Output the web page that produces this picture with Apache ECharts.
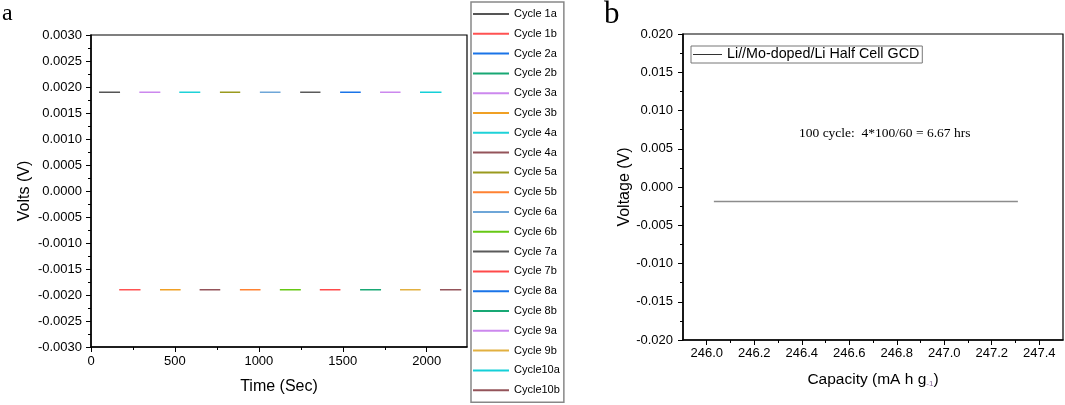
<!DOCTYPE html>
<html>
<head>
<meta charset="utf-8">
<script src="https://cdn.jsdelivr.net/npm/echarts@6/dist/echarts.min.js"></script>
<style>
html, body { margin: 0; padding: 0; background: #fff; }
#container { width: 1065px; height: 405px; }
</style>
</head>
<body>
<div id="container"></div>
<script>
// panel a: charge / discharge steps
var cycleNames = ['Cycle 1a', 'Cycle 1b', 'Cycle 2a', 'Cycle 2b', 'Cycle 3a', 'Cycle 3b', 'Cycle 4a', 'Cycle 4a ',
    'Cycle 5a', 'Cycle 5b', 'Cycle 6a', 'Cycle 6b', 'Cycle 7a', 'Cycle 7b', 'Cycle 8a', 'Cycle 8b',
    'Cycle 9a', 'Cycle 9b', 'Cycle10a', 'Cycle10b'];
var cycleColors = ['#555555', '#ff5252', '#1a74e8', '#18a874', '#cc88ee', '#f0a024', '#1ed2d8', '#94545a',
    '#9a9a1e', '#ff8232', '#6ea6d8', '#66c814', '#5a5a5a', '#ff4a4a', '#1a74e8', '#18a874',
    '#cc88ee', '#e2b040', '#14d0d8', '#94545a'];
var cycleStartSec = [48, 168, null, null, 288, 411, 526, 647, 768, 887, 1006, 1125, 1246, 1363, 1484, 1603, 1722, 1841, 1960, 2079];
var cycleEndSec = [173, 295, null, null, 413, 534, 651, 770, 889, 1010, 1129, 1250, 1367, 1486, 1607, 1728, 1844, 1964, 2088, 2206];
var cycleVolts = [0.0019, -0.0019, 0.0019, -0.0019, 0.0019, -0.0019, 0.0019, -0.0019, 0.0019, -0.0019,
    0.0019, -0.0019, 0.0019, -0.0019, 0.0019, -0.0019, 0.0019, -0.0019, 0.0019, -0.0019];
var timeMajorTicks = [0, 500, 1000, 1500, 2000];
var timeMinorTicks = [250, 750, 1250, 1750];

// panel b: GCD trace
var gcdName = 'Li//Mo-doped/Li Half Cell GCD';
var gcdCapacity = [246.03, 247.31];
var gcdVoltage = [-0.0019, -0.0019];
var capMajorTicks = [246.0, 246.2, 246.4, 246.6, 246.8, 247.0, 247.2, 247.4];
var capMinorTicks = [246.1, 246.3, 246.5, 246.7, 246.9, 247.1, 247.3];

var FONT = 'Liberation Sans';
var dom = document.getElementById('container');
var myChart = echarts.init(dom);

var axisBase = function (extra) {
    return Object.assign({
        type: 'value',
        axisLine: { show: true, onZero: false, lineStyle: { color: '#000', width: 1.5 } },
        axisTick: { show: true, inside: false, length: 5, lineStyle: { color: '#000', width: 1 } },
        axisLabel: { color: '#000', fontFamily: FONT, fontSize: 13 },
        splitLine: { show: false },
        nameTextStyle: { color: '#000', fontFamily: FONT, fontSize: 16 }
    }, extra);
};
var minorAxis = function (extra) {
    return Object.assign({
        type: 'value',
        axisLine: { show: false, onZero: false },
        axisTick: { show: true, length: 3, lineStyle: { color: '#000', width: 1 } },
        axisLabel: { show: false },
        splitLine: { show: false }
    }, extra);
};

var cycleSeries = cycleNames.map(function (name, i) {
    var data = [];
    if (cycleStartSec[i] != null) {
        data = [[cycleStartSec[i], cycleVolts[i]], [cycleEndSec[i], cycleVolts[i]]];
    }
    return {
        name: name,
        type: 'line',
        xAxisIndex: 0,
        yAxisIndex: 0,
        symbol: 'none',
        silent: true,
        color: cycleColors[i],
        lineStyle: { width: 1.5, color: cycleColors[i] },
        data: data
    };
});

var option = {
    animation: false,
    grid: [
        { left: 91, top: 35, width: 376, height: 312, show: true, borderColor: '#000', borderWidth: 1.2 },
        { left: 683, top: 34, width: 380, height: 306, show: true, borderColor: '#000', borderWidth: 1.2 }
    ],
    xAxis: [
        axisBase({
            gridIndex: 0, min: 0, max: 2240, position: 'bottom',
            axisTick: { show: true, length: 5, customValues: timeMajorTicks, lineStyle: { color: '#000' } },
            axisLabel: { color: '#000', fontFamily: FONT, fontSize: 13, margin: 8, customValues: timeMajorTicks,
                formatter: function (v) { return String(v); } },
            name: 'Time (Sec)', nameLocation: 'middle', nameGap: 32
        }),
        minorAxis({ gridIndex: 0, min: 0, max: 2240, position: 'bottom',
            axisTick: { show: true, length: 3, customValues: timeMinorTicks, lineStyle: { color: '#000' } } }),
        axisBase({
            gridIndex: 1, min: 245.9, max: 247.5, position: 'bottom',
            axisTick: { show: true, length: 5, customValues: capMajorTicks, lineStyle: { color: '#000' } },
            axisLabel: {
                color: '#000', fontFamily: FONT, fontSize: 13, margin: 7, customValues: capMajorTicks,
                formatter: function (v) { return v.toFixed(1); }
            },
            name: 'Capacity (mA h g{s|-1})', nameLocation: 'middle', nameGap: 32,
            nameTextStyle: {
                color: '#000', fontFamily: FONT, fontSize: 15.5,
                rich: { s: { fontSize: 8, color: '#8a6a98', fontFamily: FONT, verticalAlign: 'bottom', padding: [7, 0, 0, 0] } }
            }
        }),
        minorAxis({ gridIndex: 1, min: 245.9, max: 247.5, position: 'bottom',
            axisTick: { show: true, length: 3, customValues: capMinorTicks, lineStyle: { color: '#000' } } })
    ],
    yAxis: [
        axisBase({
            gridIndex: 0, min: -0.003, max: 0.003, interval: 0.0005, position: 'left',
            minorTick: { show: true, splitNumber: 2, length: 3, lineStyle: { color: '#000' } },
            axisLabel: { color: '#000', fontFamily: FONT, fontSize: 13, margin: 9,
                formatter: function (v) { return v.toFixed(4); } },
            name: 'Volts (V)', nameLocation: 'middle', nameGap: 58
        }),
        axisBase({
            gridIndex: 1, min: -0.02, max: 0.02, interval: 0.005, position: 'left',
            minorTick: { show: true, splitNumber: 2, length: 3, lineStyle: { color: '#000' } },
            axisLabel: { color: '#000', fontFamily: FONT, fontSize: 13, margin: 10,
                formatter: function (v) { return v.toFixed(3); } },
            name: 'Voltage (V)', nameLocation: 'middle', nameGap: 50
        })
    ],
    legend: [
        {
            orient: 'vertical',
            left: 471, top: 2,
            padding: [6, 4, 6, 2],
            icon: 'rect',
            itemWidth: 36, itemHeight: 2, itemGap: 7.8,
            borderColor: '#888', borderWidth: 1.5,
            selectedMode: false,
            data: cycleNames,
            formatter: function (name) { return name.trim(); },
            textStyle: { color: '#000', fontFamily: FONT, fontSize: 11, lineHeight: 12 }
        },
        {
            orient: 'horizontal',
            left: 691, top: 46,
            padding: [1, 3, 1, 2],
            icon: 'rect',
            itemWidth: 29, itemHeight: 1,
            itemStyle: { color: '#333' },
            borderColor: '#777', borderWidth: 1,
            selectedMode: false,
            data: [gcdName],
            textStyle: { color: '#000', fontFamily: FONT, fontSize: 14.3, lineHeight: 15 }
        }
    ],
    graphic: [
        { type: 'text', left: 2, top: 2, style: { text: 'a', font: '24px "Liberation Serif"', fill: '#000' } },
        { type: 'text', left: 604, top: -1, style: { text: 'b', font: '31px "Liberation Serif"', fill: '#000' } },
        { type: 'text', left: 799, top: 126, style: { text: '100 cycle:  4*100/60 = 6.67 hrs', font: '13.5px "Liberation Serif"', fill: '#000' } }
    ],
    series: cycleSeries.concat([
        {
            name: gcdName,
            type: 'line',
            xAxisIndex: 2,
            yAxisIndex: 1,
            symbol: 'none',
            silent: true,
            color: '#8c8c8c',
            lineStyle: { width: 1.5, color: '#8c8c8c' },
            data: gcdCapacity.map(function (c, i) { return [c, gcdVoltage[i]]; })
        }
    ])
};
if (option && typeof option === 'object') {
    myChart.setOption(option, true);
}
</script>
</body>
</html>
